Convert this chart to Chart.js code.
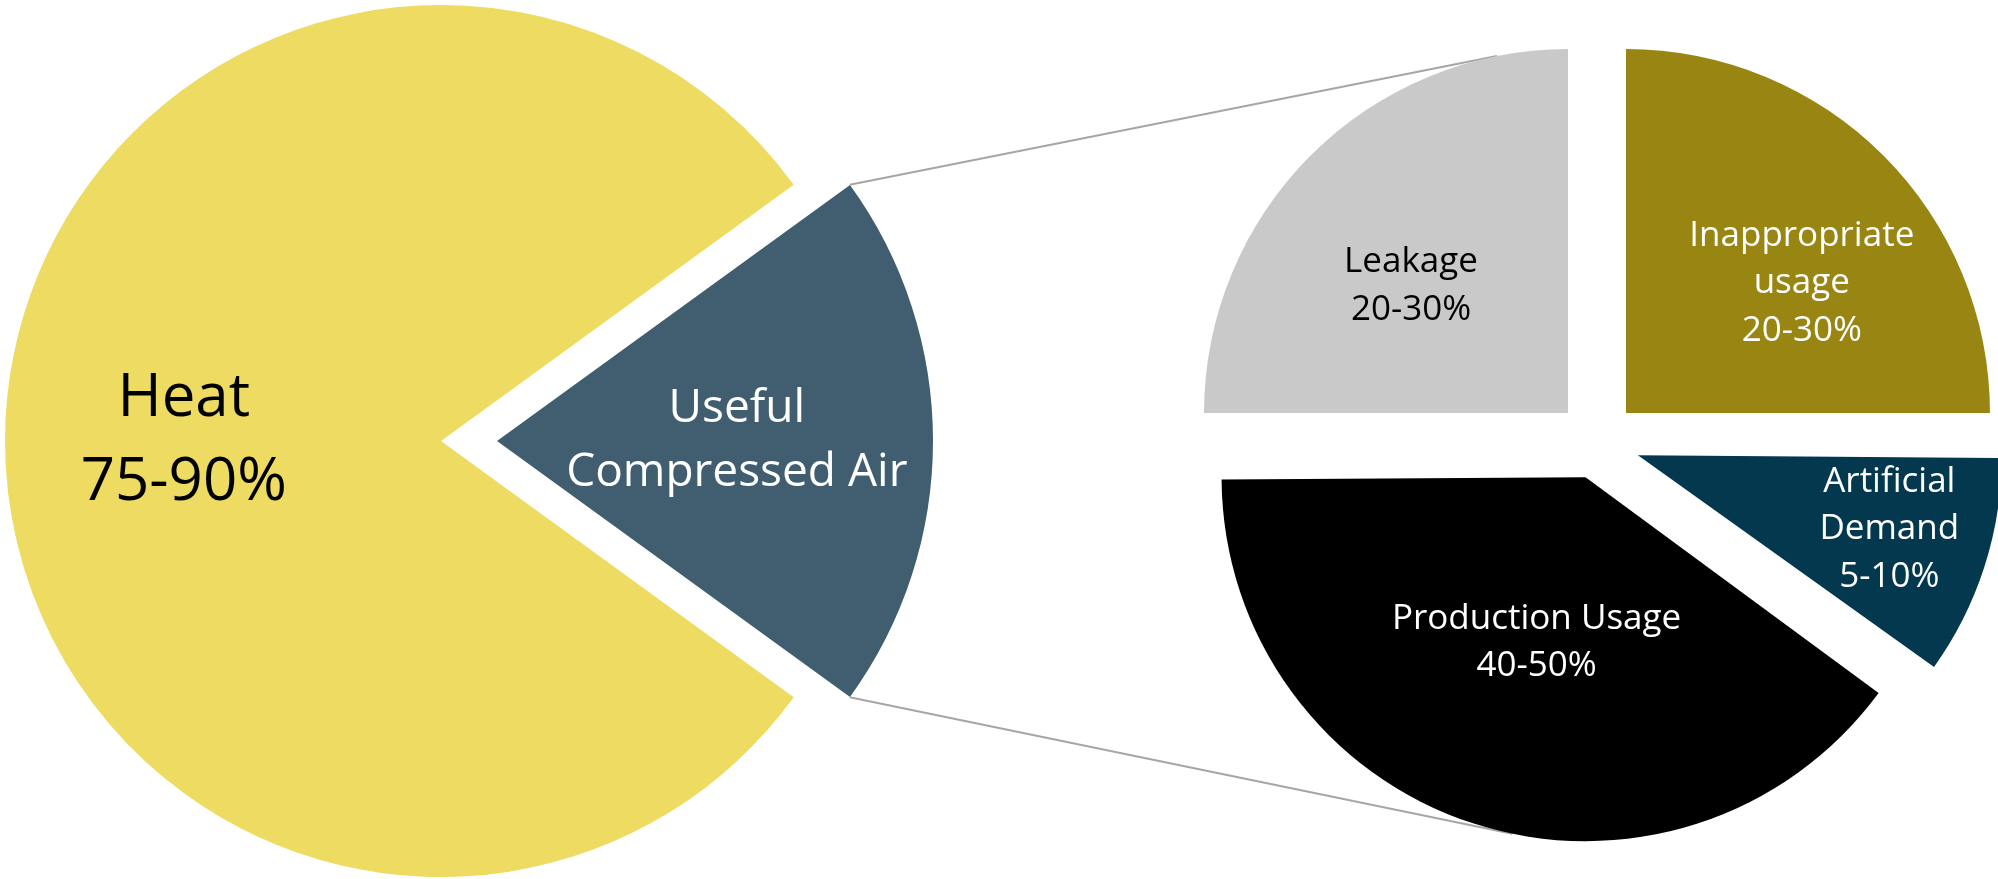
<!DOCTYPE html>
<html>
<head>
<meta charset="utf-8">
<script src="https://cdn.jsdelivr.net/npm/chart.js@4.4.0/dist/chart.umd.min.js"></script>
<style>
    html, body { margin: 0; padding: 0; background: #fff; }
    #wrap { position: relative; width: 1998px; height: 879px; }
    #wrap canvas { position: absolute; left: 0; top: 0; }
</style>
</head>
<body>
<div id="wrap">
    <canvas id="mainPie" width="1998" height="879" style="width:1998px;height:879px"></canvas>
    <canvas id="subPie" width="1998" height="879" style="width:1998px;height:879px"></canvas>
</div>
<script>
// main pie
const mainLabels = [['Useful', 'Compressed Air'], ['Heat', '75-90%']];
const mainValues = [20, 80];

// breakdown of the useful compressed air
const subLabels = [['Inappropriate', 'usage', '20-30%'], ['Artificial', 'Demand', '5-10%'], ['Production Usage', '40-50%'], ['Leakage', '20-30%']];
const subValues = [25, 10, 40, 25];

const mainColors = ['#405E6F', '#EDDB62'];
const subColors = ['#998512', '#03384F', '#000000', '#C9C9C9'];

// label placement: fraction of radius, angle shift from slice bisector (deg), font size, line height, colour
const mainLabelStyle = [
    { r: 0.55, shift: 0, size: 46, lh: 64, color: '#FFFFFF' },
    { r: 0.59, shift: 0, size: 60, lh: 84, color: '#000000' }
];
const subLabelStyle = [
    { r: 0.6, shift: 8.6, size: 35, lh: 47.5, color: '#FFFFFF' },
    { r: 0.72, shift: -1.6, size: 35, lh: 47.5, color: '#FFFFFF' },
    { r: 0.474, shift: -1.5, size: 35, lh: 47.5, color: '#FFFFFF' },
    { r: 0.555, shift: -6, size: 35, lh: 47.5, color: '#000000' }
];

const FONT = '"Open Sans", "Noto Sans", sans-serif';

// where a slice really sits once chart.js has pushed it out by its offset
function sliceGeom(arc) {
    const off = (arc.options.offset || 0) / 4;
    const mid = (arc.startAngle + arc.endAngle) / 2;
    const fix = 1 - Math.sin(Math.min(Math.PI, arc.endAngle - arc.startAngle));
    return {
        x: arc.x + Math.cos(mid) * off,
        y: arc.y + Math.sin(mid) * off,
        mid: mid,
        r: arc.outerRadius + off * fix
    };
}

// chart.js grows narrow exploded slices a little; keep every slice at the same radius
const evenRadius = {
    id: 'evenRadius',
    afterDatasetsUpdate(chart) {
        chart.getDatasetMeta(0).data.forEach(arc => {
            const off = (arc.options.offset || 0) / 4;
            const fix = 1 - Math.sin(Math.min(Math.PI, arc.endAngle - arc.startAngle));
            arc.outerRadius -= off * fix;
        });
    }
};

function sliceLabels(labels, styles) {
    return {
        id: 'sliceLabels',
        afterDatasetsDraw(chart) {
            const { ctx } = chart;
            ctx.save();
            ctx.textAlign = 'center';
            ctx.textBaseline = 'middle';
            chart.getDatasetMeta(0).data.forEach((arc, i) => {
                const g = sliceGeom(arc);
                const st = styles[i];
                const a = g.mid + st.shift * Math.PI / 180;
                const x = g.x + Math.cos(a) * g.r * st.r;
                const y = g.y + Math.sin(a) * g.r * st.r;
                const lines = labels[i];
                ctx.font = st.size + 'px ' + FONT;
                ctx.fillStyle = st.color;
                lines.forEach((t, k) => {
                    ctx.fillText(t, x, y + (k - (lines.length - 1) / 2) * st.lh);
                });
            });
            ctx.restore();
        }
    };
}

const mainChart = new Chart(document.getElementById('mainPie'), {
    type: 'pie',
    data: {
        labels: mainLabels.map(l => l.join(' ')),
        datasets: [{
            data: mainValues,
            backgroundColor: mainColors,
            borderWidth: 0,
            offset: [224, 0]
        }]
    },
    options: {
        responsive: false,
        animation: false,
        rotation: 54,
        radius: 436,
        layout: { padding: { left: 0, top: 3, right: 1116, bottom: 0 } },
        events: [],
        plugins: { legend: { display: false }, tooltip: { enabled: false } }
    },
    plugins: [evenRadius, sliceLabels(mainLabels, mainLabelStyle)]
});

// grey lines from the useful slice, tangent to the breakdown pie
const connectors = {
    id: 'connectors',
    beforeDatasetsDraw(chart) {
        const { ctx } = chart;
        const useful = mainChart.getDatasetMeta(0).data[0];
        const arcs = chart.getDatasetMeta(0).data;
        const u = sliceGeom(useful);
        const ends = [
            { ang: useful.startAngle, arc: arcs[3], up: true },
            { ang: useful.endAngle, arc: arcs[2], up: false }
        ];
        ctx.save();
        ctx.strokeStyle = '#A6A6A6';
        ctx.lineWidth = 2;
        ends.forEach(e => {
            const px = u.x + Math.cos(e.ang) * u.r;
            const py = u.y + Math.sin(e.ang) * u.r;
            const c = sliceGeom(e.arc);
            const d = Math.hypot(px - c.x, py - c.y);
            const phi = Math.atan2(py - c.y, px - c.x);
            const beta = Math.acos(c.r / d);
            const t1 = phi + beta, t2 = phi - beta;
            const y1 = c.y + c.r * Math.sin(t1), y2 = c.y + c.r * Math.sin(t2);
            const t = (e.up ? y1 < y2 : y1 > y2) ? t1 : t2;
            ctx.beginPath();
            ctx.moveTo(px, py);
            ctx.lineTo(c.x + Math.cos(t) * c.r, c.y + Math.sin(t) * c.r);
            ctx.stroke();
        });
        ctx.restore();
    }
};

const subChart = new Chart(document.getElementById('subPie'), {
    type: 'pie',
    data: {
        labels: subLabels.map(l => l.join(' ')),
        datasets: [{
            data: subValues,
            backgroundColor: subColors,
            borderWidth: 0,
            offset: [164, 172, 148, 164]
        }]
    },
    options: {
        responsive: false,
        animation: false,
        rotation: 0,
        radius: 364,
        layout: { padding: { left: 1196, top: 5, right: 0, bottom: 0 } },
        events: [],
        plugins: { legend: { display: false }, tooltip: { enabled: false } }
    },
    plugins: [evenRadius, connectors, sliceLabels(subLabels, subLabelStyle)]
});
</script>
</body>
</html>
